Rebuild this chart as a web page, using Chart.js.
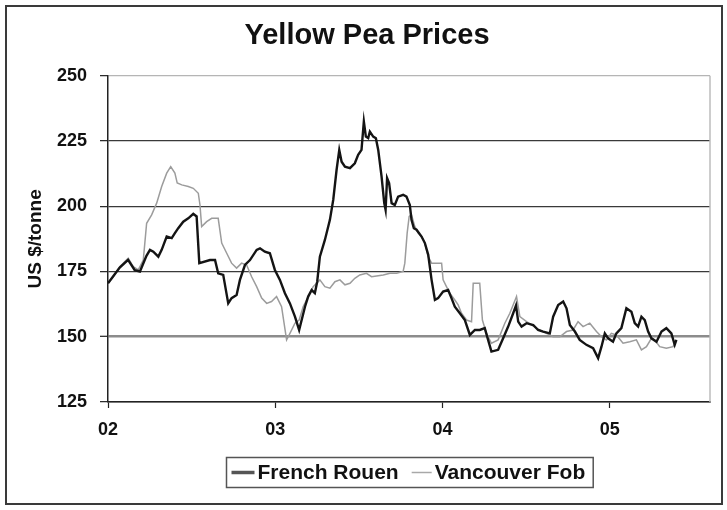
<!DOCTYPE html>
<html>
<head>
<meta charset="utf-8">
<title>Yellow Pea Prices</title>
<script src="https://cdn.jsdelivr.net/npm/chart.js@4.4.0/dist/chart.umd.min.js"></script>
<style>
  html, body { margin: 0; padding: 0; background: #fff; }
  #wrap { position: relative; width: 727px; height: 510px; }
  #wrap canvas { position: absolute; left: 0; top: 0; }
  #frame { position: absolute; left: 5px; top: 5px; width: 714px; height: 496px;
           border: 2px solid #3a3a3a; pointer-events: none; }
</style>
</head>
<body>
<div id="wrap">
  <canvas id="chart" width="727" height="510"></canvas>
  <div id="frame"></div>
</div>
<script>
// Weekly-ish price observations, time in decimal years
const frenchDates = [
  2002.000, 2002.070, 2002.120, 2002.160, 2002.191, 2002.230, 2002.251, 2002.271, 2002.301, 2002.321,
  2002.351, 2002.381, 2002.400, 2002.420, 2002.450, 2002.480, 2002.510, 2002.530, 2002.546, 2002.610,
  2002.640, 2002.659, 2002.689, 2002.719, 2002.739, 2002.769, 2002.789, 2002.819, 2002.849, 2002.889,
  2002.909, 2002.938, 2002.968, 2002.998, 2003.028, 2003.058, 2003.088, 2003.118, 2003.143, 2003.178,
  2003.197, 2003.218, 2003.237, 2003.251, 2003.267, 2003.297, 2003.327, 2003.347, 2003.367, 2003.383,
  2003.397, 2003.417, 2003.447, 2003.476, 2003.496, 2003.516, 2003.530, 2003.542, 2003.556, 2003.566,
  2003.586, 2003.602, 2003.616, 2003.636, 2003.652, 2003.660, 2003.669, 2003.681, 2003.696, 2003.715,
  2003.735, 2003.765, 2003.785, 2003.805, 2003.815, 2003.829, 2003.845, 2003.875, 2003.895, 2003.915,
  2003.935, 2003.955, 2003.974, 2004.004, 2004.034, 2004.054, 2004.074, 2004.104, 2004.134, 2004.164,
  2004.194, 2004.223, 2004.253, 2004.273, 2004.293, 2004.333, 2004.363, 2004.393, 2004.423, 2004.440,
  2004.453, 2004.473, 2004.503, 2004.543, 2004.572, 2004.602, 2004.642, 2004.662, 2004.692, 2004.722,
  2004.742, 2004.762, 2004.792, 2004.821, 2004.861, 2004.901, 2004.931, 2004.951, 2004.971, 2004.991,
  2005.020, 2005.040, 2005.070, 2005.100, 2005.130, 2005.150, 2005.170, 2005.190, 2005.210, 2005.230,
  2005.250, 2005.280, 2005.310, 2005.339, 2005.369, 2005.389, 2005.399
];
const frenchPrices = [
  170.5, 176.5, 179.5, 175.5, 175.0, 181.0, 183.3, 182.6, 180.7, 183.3,
  188.4, 187.8, 189.7, 191.6, 194.1, 195.4, 197.1, 196.1, 178.2, 179.4,
  179.4, 174.3, 173.7, 162.8, 164.8, 166.0, 171.8, 177.5, 179.4, 183.3,
  183.9, 182.6, 182.0, 175.6, 171.8, 166.7, 162.8, 157.7, 152.6, 161.5,
  165.4, 167.9, 166.7, 171.1, 180.7, 187.1, 194.8, 202.5, 214.0, 221.6,
  217.1, 215.2, 214.6, 216.5, 219.7, 221.6, 232.5, 226.7, 226.1, 228.6,
  226.7, 226.1, 221.6, 211.4, 201.2, 198.6, 210.8, 208.9, 201.2, 200.5,
  203.7, 204.4, 203.7, 200.5, 194.8, 191.6, 191.0, 188.4, 185.9, 181.4,
  171.8, 164.1, 164.8, 167.3, 167.9, 164.8, 161.5, 159.0, 156.4, 150.7,
  152.6, 152.6, 153.3, 148.8, 144.3, 145.0, 149.4, 153.9, 159.0, 162.0,
  155.8, 153.9, 155.2, 154.5, 152.6, 152.0, 151.3, 157.7, 162.2, 163.5,
  160.9, 154.5, 152.0, 148.8, 146.9, 145.6, 141.8, 146.2, 151.3, 149.4,
  148.1, 151.3, 153.3, 160.9, 159.6, 155.2, 153.9, 157.7, 156.4, 152.0,
  149.4, 148.1, 152.0, 153.3, 151.3, 146.9, 148.8
];

const vancouverDates = [
  2002.000, 2002.032, 2002.072, 2002.121, 2002.151, 2002.181, 2002.211, 2002.231, 2002.261, 2002.291,
  2002.321, 2002.351, 2002.375, 2002.400, 2002.414, 2002.441, 2002.480, 2002.510, 2002.540, 2002.550,
  2002.560, 2002.590, 2002.620, 2002.659, 2002.680, 2002.710, 2002.739, 2002.769, 2002.799, 2002.829,
  2002.859, 2002.889, 2002.919, 2002.949, 2002.978, 2003.008, 2003.038, 2003.068, 2003.088, 2003.118,
  2003.143, 2003.167, 2003.227, 2003.267, 2003.297, 2003.327, 2003.357, 2003.387, 2003.417, 2003.447,
  2003.476, 2003.506, 2003.546, 2003.576, 2003.606, 2003.646, 2003.686, 2003.726, 2003.765, 2003.775,
  2003.789, 2003.801, 2003.815, 2003.835, 2003.855, 2003.875, 2003.895, 2003.915, 2003.935, 2003.965,
  2003.995, 2004.004, 2004.024, 2004.044, 2004.074, 2004.094, 2004.114, 2004.144, 2004.174, 2004.184,
  2004.223, 2004.239, 2004.263, 2004.293, 2004.333, 2004.373, 2004.403, 2004.443, 2004.463, 2004.503,
  2004.562, 2004.622, 2004.662, 2004.702, 2004.742, 2004.781, 2004.811, 2004.841, 2004.881, 2004.921,
  2004.951, 2004.980, 2005.010, 2005.040, 2005.080, 2005.120, 2005.160, 2005.190, 2005.220, 2005.250,
  2005.269, 2005.299, 2005.339, 2005.379, 2005.399
];
const vancouverPrices = [
  170.5, 173.0, 176.9, 180.1, 176.9, 175.6, 179.4, 193.5, 196.7, 201.2,
  207.6, 212.7, 215.2, 212.7, 208.9, 208.2, 207.6, 206.9, 205.0, 200.5,
  192.2, 194.1, 195.4, 195.4, 185.9, 182.0, 178.2, 176.3, 178.2, 177.5,
  173.0, 169.2, 164.8, 162.8, 163.5, 165.4, 161.5, 148.8, 151.3, 155.2,
  156.4, 161.5, 169.2, 171.8, 169.2, 168.6, 171.1, 171.8, 169.9, 170.5,
  172.4, 173.7, 174.3, 173.0, 173.3, 173.7, 174.3, 174.3, 175.0, 178.2,
  189.7, 196.1, 196.7, 192.2, 189.7, 188.4, 185.9, 180.7, 178.2, 178.2,
  178.2, 171.8, 169.2, 166.7, 164.1, 162.2, 159.0, 156.4, 155.8, 170.5,
  170.5, 156.4, 151.3, 147.5, 148.8, 155.2, 159.0, 165.4, 157.7, 155.8,
  153.3, 151.3, 150.0, 150.0, 152.0, 152.6, 155.8, 153.9, 155.2, 152.0,
  150.0, 148.8, 151.3, 150.7, 147.5, 148.1, 148.8, 145.0, 146.2, 149.4,
  148.8, 146.2, 145.6, 146.2, 148.8
];

// Year ticks on the time axis and their short labels
const yearTicks = [2002, 2003, 2004, 2005];
const yearLabels = ['02', '03', '04', '05'];
const seriesNames = ['French Rouen', 'Vancouver Fob'];

const FONT = "'Liberation Sans', Arial, Helvetica, sans-serif";

function toPoints(xs, ys) {
  return xs.map((x, i) => ({ x: x, y: ys[i] }));
}

// Boxed legend centred under the plot area
const boxedLegend = {
  id: 'boxedLegend',
  afterDraw(chart) {
    const { ctx, chartArea } = chart;
    const fontSize = 21;
    ctx.save();
    ctx.font = 'bold ' + fontSize + 'px ' + FONT;
    const padL = 5, padR = 8, gapText = 3, gapItem = 13;
    const items = chart.data.datasets.map(ds => ({
      label: ds.label,
      color: ds.legendColor || ds.borderColor,
      lw: ds.legendWidth || ds.borderWidth,
      sample: ds.legendSample || 22,
      w: ctx.measureText(ds.label).width
    }));
    let total = padL + padR;
    items.forEach((it, i) => { total += it.sample + gapText + it.w + (i ? gapItem : 0); });
    const boxH = 30;
    const cx = (chartArea.left + chartArea.right) / 2;
    const left = Math.round(cx - total / 2) + 0.5;
    const top = Math.round(chartArea.bottom + 55) + 0.5;
    ctx.fillStyle = '#fff';
    ctx.fillRect(left, top, total, boxH);
    ctx.strokeStyle = '#555';
    ctx.lineWidth = 1.5;
    ctx.strokeRect(left, top, total, boxH);
    let x = left + padL;
    const midY = top + boxH / 2;
    ctx.textBaseline = 'middle';
    ctx.textAlign = 'left';
    items.forEach((it, i) => {
      if (i) x += gapItem;
      ctx.strokeStyle = it.color;
      ctx.lineWidth = it.lw;
      ctx.beginPath();
      ctx.moveTo(x, midY);
      ctx.lineTo(x + it.sample, midY);
      ctx.stroke();
      x += it.sample + gapText;
      ctx.fillStyle = '#111';
      ctx.fillText(it.label, x, midY + 1);
      x += it.w;
    });
    ctx.restore();
  }
};

// Light border on the right edge of the plot area
const plotEdge = {
  id: 'plotEdge',
  beforeDatasetsDraw(chart) {
    const { ctx, chartArea } = chart;
    ctx.save();
    ctx.strokeStyle = '#bdbdbd';
    ctx.lineWidth = 1.5;
    ctx.beginPath();
    ctx.moveTo(chartArea.right, chartArea.top);
    ctx.lineTo(chartArea.right, chartArea.bottom);
    ctx.stroke();
    ctx.restore();
  }
};

const chart = new Chart(document.getElementById('chart'), {
  type: 'line',
  data: {
    datasets: [
      {
        label: seriesNames[0],
        data: toPoints(frenchDates, frenchPrices),
        borderColor: '#141414',
        borderWidth: 2.4,
        legendColor: '#555',
        legendWidth: 3.5,
        legendSample: 23,
        pointRadius: 0,
        tension: 0,
        fill: false
      },
      {
        label: seriesNames[1],
        data: toPoints(vancouverDates, vancouverPrices),
        borderColor: '#9c9c9c',
        borderWidth: 1.5,
        legendColor: '#a8a8a8',
        legendWidth: 1.5,
        legendSample: 20,
        pointRadius: 0,
        tension: 0,
        fill: false
      }
    ]
  },
  options: {
    responsive: false,
    animation: false,
    events: [],
    layout: { padding: { top: 10, left: 24, right: 17, bottom: 0 } },
    plugins: {
      legend: { display: false },
      tooltip: { enabled: false },
      title: {
        display: true,
        text: 'Yellow Pea Prices',
        color: '#111',
        font: { family: FONT, size: 29, weight: 'bold' },
        padding: { top: 9, bottom: 22 }
      }
    },
    scales: {
      x: {
        type: 'linear',
        min: 2002,
        max: 2005.6,
        afterBuildTicks(scale) {
          scale.ticks = yearTicks.map(v => ({ value: v }));
        },
        afterFit(scale) { scale.height = 108; },
        ticks: {
          color: '#111',
          font: { family: FONT, size: 18, weight: 'bold' },
          padding: 11,
          maxRotation: 0,
          autoSkip: false,
          callback(value) {
            const i = yearTicks.indexOf(value);
            return i >= 0 ? yearLabels[i] : '';
          }
        },
        grid: {
          drawOnChartArea: false,
          drawTicks: true,
          tickLength: 6,
          tickColor: '#222',
          tickWidth: 1.2
        },
        border: { display: true, color: '#222', width: 1.5 }
      },
      y: {
        min: 125,
        max: 250,
        afterFit(scale) { scale.width = 84; },
        ticks: {
          stepSize: 25,
          color: '#111',
          font: { family: FONT, size: 18, weight: 'bold' },
          padding: 13
        },
        grid: {
          color(ctx) {
            const v = ctx.tick && ctx.tick.value;
            if (v === 150) return '#8c8c8c';
            if (v === 250) return '#b5b5b5';
            return '#3a3a3a';
          },
          lineWidth(ctx) {
            const v = ctx.tick && ctx.tick.value;
            return v === 150 ? 2.6 : 1.3;
          },
          drawTicks: true,
          tickLength: 8,
          tickColor: '#222',
          tickWidth: 1.2
        },
        border: { display: true, color: '#222', width: 1.5 },
        title: {
          display: true,
          text: 'US $/tonne',
          color: '#111',
          font: { family: FONT, size: 19, weight: 'bold' },
          padding: { top: 0, bottom: 0 }
        }
      }
    }
  },
  plugins: [plotEdge, boxedLegend]
});
</script>
</body>
</html>
